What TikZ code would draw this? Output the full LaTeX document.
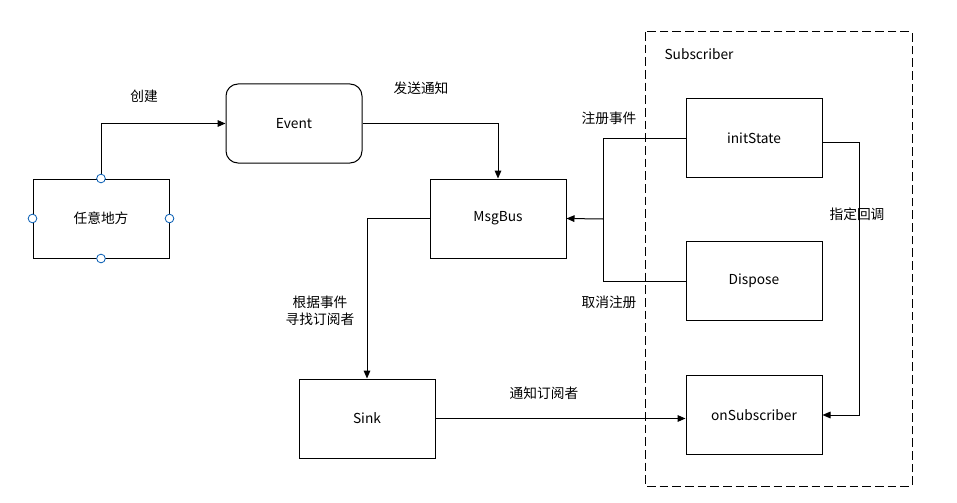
\documentclass[tikz,border=0pt]{standalone}
\usepackage{fontspec}
\setmainfont{Noto Sans CJK SC}
\usetikzlibrary{arrows.meta,calc}
\begin{document}
\begin{tikzpicture}[x=0.75pt,y=-0.75pt,
  every node/.style={font=\fontsize{10.3pt}{12.5pt}\selectfont},
  box/.style={draw, line width=0.75pt, minimum width=102pt, minimum height=59.25pt, inner sep=0pt},
  rbox/.style={box, rounded corners=9pt},
  conn/.style={line width=0.75pt},
  arr/.style={conn, -{Triangle[length=6pt,width=5pt]}},
  port/.style={circle, draw=blue!50!cyan!70!black, fill=white, line width=0.6pt, minimum size=6.5pt, inner sep=0pt},
  lbl/.style={inner sep=1pt}]
\useasboundingbox (0,0) rectangle (957,503);
% subscriber container
\draw[dashed, dash pattern=on 6.5pt off 3pt, line width=0.75pt] (645,32) rectangle (912,486);
\node[lbl, anchor=center] (subl) at (699,54) {Subscriber};
% nodes
\node[box] (any) at (101,218.5) {任意地方};
\node[rbox] (event) at (294,123.5) {Event};
\node[box] (bus) at (498,218.5) {MsgBus};
\node[box] (init) at (754,138) {initState};
\node[box] (disp) at (754,281) {Dispose};
\node[box] (onsub) at (754,415) {onSubscriber};
\node[box] (sink) at (367,418.5) {Sink};
% coordinates
\coordinate (j) at (603,219);
\coordinate (cb) at ($(init.east)+(0,4)$);
% connectors
\draw[arr] (any.north) |- (event.west);
\draw[arr] (event.east) -| (bus.north);
\draw[conn] (init.west) -| (j);
\draw[conn] (disp.west) -| (j);
\draw[arr] (j) -- (bus.east);
\draw[arr] (cb) -- ++(37,0) |- (onsub.east);
\draw[arr] (bus.west) -| (sink.north);
\draw[arr] (sink.east) -- (sink.east -| onsub.west);
% ports
\node[port] (p1) at (any.north) {};
\node[port] (p2) at (any.south) {};
\node[port] (p3) at (any.west) {};
\node[port] (p4) at (any.east) {};
% labels
\node[lbl] (l1) at (144,96) {创建};
\node[lbl] (l2) at (421,88) {发送通知};
\node[lbl] (l3) at (609,118) {注册事件};
\node[lbl] (l4) at (609,302) {取消注册};
\node[lbl] (l5) at (857,214) {指定回调};
\node[lbl, align=center] (l6) at (320,311) {根据事件\\寻找订阅者};
\node[lbl] (l7) at (544,393) {通知订阅者};
\end{tikzpicture}
\end{document}
